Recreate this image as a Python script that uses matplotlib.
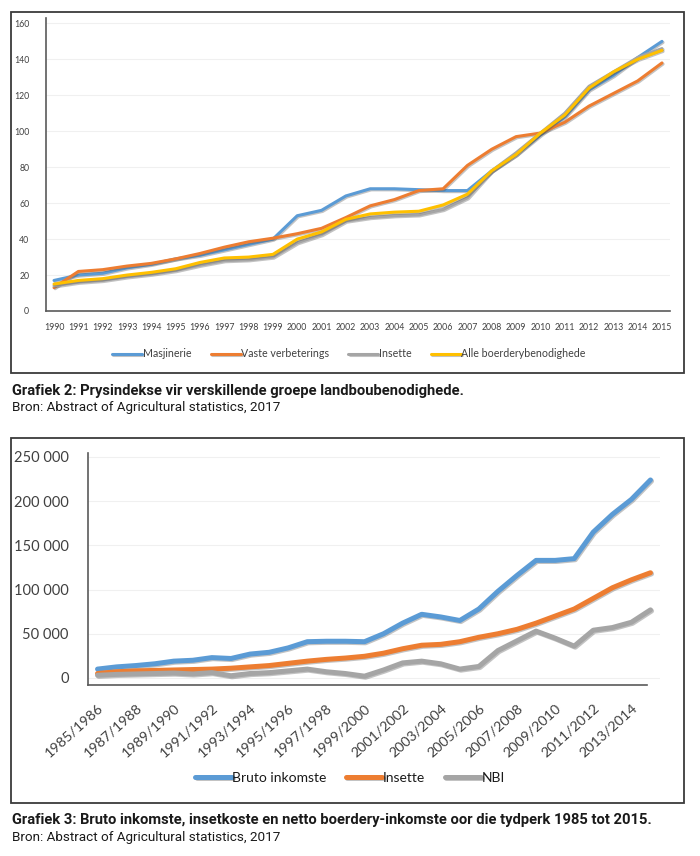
import matplotlib
matplotlib.use("Agg")
import matplotlib.pyplot as plt
import matplotlib.patheffects as pe
from matplotlib.patches import Rectangle

# ---------------- data: chart 1 (price indices) ----------------
years = [str(y) for y in range(1990, 2016)]
masjinerie = [17, 20, 21, 24, 26, 29, 31, 34, 37, 40, 53, 56, 64, 68, 68, 67.5, 67, 67,
              78, 87, 98, 108, 123, 131, 141, 150]
vaste_verbeterings = [13, 22, 23, 25, 26.5, 29, 32, 35.5, 38.5, 40.5, 43, 46, 52, 58.5, 62, 67,
                      68, 81, 90, 97, 99, 105, 114, 121, 128, 138]
insette_idx = [14, 16, 17, 19, 20.5, 22.5, 25.5, 28, 28.5, 30, 38, 42.5, 50, 52, 53, 53.5,
               56.5, 63, 78, 88, 99, 110, 125, 133, 141, 146]
alle_benodighede = [15, 17, 18, 20, 21.5, 23.5, 27, 29.5, 30, 31.5, 40, 44, 51, 54, 55, 55.5,
                    59, 65, 78, 87, 99, 109, 124, 133, 140, 145]
series1_names = ["Masjinerie", "Vaste verbeterings", "Insette", "Alle boerderybenodighede"]
y1_ticks = [0, 20, 40, 60, 80, 100, 120, 140, 160]

# ---------------- data: chart 2 (income) ----------------
seasons = [f"{y}/{y + 1}" for y in range(1985, 2015)]
bruto_inkomste = [10000, 12500, 14000, 16000, 19000, 20000, 23000, 22000, 27000, 29000,
                  34000, 41000, 41500, 41500, 41000, 50000, 62000, 72000, 69000, 65000,
                  78000, 98000, 116000, 133000, 133000, 135000, 165000, 185000, 202000, 224000]
insette_koste = [5000, 7000, 8000, 8500, 9000, 9500, 10000, 11000, 12500, 14000,
                 16500, 19000, 21000, 22500, 24500, 28000, 33000, 37000, 38000, 41000,
                 46000, 50000, 55000, 62000, 70000, 78000, 90000, 102000, 111000, 119000]
nbi = [3000, 4000, 4500, 5000, 5500, 4500, 6000, 2500, 5000, 6000,
       8000, 10000, 7000, 5000, 2000, 9000, 17000, 19000, 16000, 10000,
       13000, 31000, 42000, 53000, 45000, 36000, 54000, 57000, 63000, 77000]
series2_names = ["Bruto inkomste", "Insette", "NBI"]
y2_ticks = [0, 50000, 100000, 150000, 200000, 250000]

caption1 = "Grafiek 2: Prysindekse vir verskillende groepe landboubenodighede."
source1 = "Bron: Abstract of Agricultural statistics, 2017"
caption2 = ("Grafiek 3: Bruto inkomste, insetkoste en netto boerdery-inkomste oor die "
            "tydperk 1985 tot 2015.")
source2 = "Bron: Abstract of Agricultural statistics, 2017"

BLUE, ORANGE, GRAY, YELLOW = "#5B9BD5", "#ED7D31", "#A5A5A5", "#FFC000"
TXT = "#404040"
W, H = 700, 856

plt.rcParams["font.family"] = ["Lato", "DejaVu Sans"]
fig = plt.figure(figsize=(W / 100, H / 100), dpi=100)


def px_axes(left, top, right, bottom):
    return fig.add_axes([left / W, 1 - bottom / H, (right - left) / W, (bottom - top) / H])


def box(left, top, right, bottom):
    fig.patches.append(Rectangle((left / W, 1 - bottom / H), (right - left) / W, (bottom - top) / H,
                                 transform=fig.transFigure, fill=False, edgecolor="#3a3a3a",
                                 linewidth=1.3, zorder=0))


def shadow(lw):
    return [pe.SimpleLineShadow(offset=(0.8, -0.8), alpha=0.35, shadow_color="#555555"), pe.Normal()]


def style_axes(ax):
    for s in ["top", "right"]:
        ax.spines[s].set_visible(False)
    for s in ["left", "bottom"]:
        ax.spines[s].set_color("#5a5a5a")
        ax.spines[s].set_linewidth(1.2)
    ax.tick_params(length=0, colors=TXT)
    ax.grid(axis="y", color="#f0f0f0", linewidth=0.8)
    ax.set_axisbelow(True)
    ax.set_facecolor("none")


# ---------------- chart 1 ----------------
box(11, 12, 684, 373)
ax1 = px_axes(46, 18, 670, 311)
style_axes(ax1)
x1 = list(range(len(years)))
lw1 = 2.2
for vals, col, name in zip([masjinerie, vaste_verbeterings, insette_idx, alle_benodighede],
                           [BLUE, ORANGE, GRAY, YELLOW], series1_names):
    ax1.plot(x1, vals, color=col, lw=lw1, label=name, solid_capstyle="round",
             path_effects=shadow(lw1))
ax1.set_xlim(-0.33, len(years) - 1 + 0.33)
ax1.set_ylim(0, 163)
ax1.set_yticks(y1_ticks)
ax1.set_yticklabels([str(v) for v in y1_ticks], fontsize=6.3)
ax1.set_xticks(x1)
ax1.set_xticklabels(years, fontsize=6.3)
ax1.tick_params(axis="y", pad=12)
ax1.tick_params(axis="x", pad=9)
h1, l1 = ax1.get_legend_handles_labels()
fig.legend(h1, l1, loc="center", bbox_to_anchor=(349 / W, 1 - 354 / H), ncol=4, frameon=False,
           fontsize=7.7, handlelength=2.8, handletextpad=0.05, columnspacing=1.8,
           labelcolor=TXT)

fig.text(12 / W, 1 - 391 / H, caption1, fontsize=10.6, fontweight="bold", family="Roboto",
         va="center", ha="left", color="#1a1a1a")
fig.text(12 / W, 1 - 408 / H, source1, fontsize=9.7, family="Roboto", va="center", ha="left",
         color="#1a1a1a")

# ---------------- chart 2 ----------------
box(11, 438, 684, 803)
ax2 = px_axes(88, 453, 660, 685)
style_axes(ax2)
x2 = list(range(len(seasons)))
lw2 = 3.6
for vals, col, name in zip([bruto_inkomste, insette_koste, nbi], [BLUE, ORANGE, GRAY],
                           series2_names):
    ax2.plot(x2, vals, color=col, lw=lw2, label=name, solid_capstyle="round",
             solid_joinstyle="round", path_effects=shadow(lw2))
ax2.set_xlim(-0.5, len(seasons) - 0.5)
ax2.spines["bottom"].set_bounds(-0.5, 28.8)
ax2.set_ylim(-8000, 254500)
ax2.set_yticks(y2_ticks)
ax2.set_yticklabels([f"{v:,}".replace(",", " ") for v in y2_ticks], fontsize=10.5)
ax2.set_xticks(x2[::2])
ax2.set_xticklabels(seasons[::2], fontsize=10.3, rotation=42, ha="right", rotation_mode="anchor")
ax2.tick_params(axis="y", pad=14)
ax2.tick_params(axis="x", pad=12)
h2, l2 = ax2.get_legend_handles_labels()
fig.legend(h2, l2, loc="center", bbox_to_anchor=(350 / W, 1 - 778 / H), ncol=3, frameon=False,
           fontsize=10, handlelength=2.6, handletextpad=0.05, columnspacing=1.4,
           labelcolor="#1a1a1a")

fig.text(12 / W, 1 - 820 / H, caption2, fontsize=10.6, fontweight="bold", family="Roboto",
         va="center", ha="left", color="#1a1a1a")
fig.text(12 / W, 1 - 838 / H, source2, fontsize=9.7, family="Roboto", va="center", ha="left",
         color="#1a1a1a")

fig.savefig("out.png", dpi=100, facecolor="white")
